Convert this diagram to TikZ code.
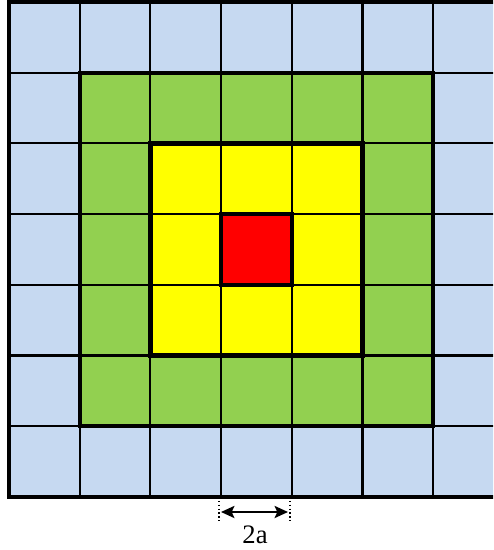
\documentclass[tikz,border=0pt]{standalone}
\usepackage{fontspec}
\setmainfont{Liberation Serif}
\usetikzlibrary{arrows.meta}
\definecolor{cblue}{RGB}{198,217,241}
\definecolor{cgreen}{RGB}{146,208,80}
\definecolor{cyellow}{RGB}{255,255,0}
\definecolor{cred}{RGB}{255,0,0}
\tikzset{
  thin grid/.style={line width=1.6pt},
  thick border/.style={line width=3.2pt},
  dimline/.style={line width=0.9pt, dotted},
}
\begin{document}
\begin{tikzpicture}[x=0.75pt,y=-0.75pt]
\useasboundingbox (0,0) rectangle (493,550);
\begin{scope}
\clip (0,0) rectangle (493,550);
% cell size 70.7, origin (9,2)
\def\cs{70.7}
\fill[cblue] (9,2) rectangle ++(7*\cs,7*\cs);
\fill[cgreen] (9+\cs,2+\cs) rectangle ++(5*\cs,5*\cs);
\fill[cyellow] (9+2*\cs,2+2*\cs) rectangle ++(3*\cs,3*\cs);
\fill[cred] (9+3*\cs,2+3*\cs) rectangle ++(\cs,\cs);
\foreach \i in {1,...,6}{
  \draw[thin grid] (9+\i*\cs,2) -- (9+\i*\cs,2+7*\cs);
  \draw[thin grid] (9,2+\i*\cs) -- (9+7*\cs,2+\i*\cs);
}
\draw[thick border] (9+\cs,2+\cs) rectangle ++(5*\cs,5*\cs);
\draw[thick border] (9+2*\cs,2+2*\cs) rectangle ++(3*\cs,3*\cs);
\draw[thick border] (9+3*\cs,2+3*\cs) rectangle ++(\cs,\cs);
\draw[thick border] (9,2) rectangle ++(7*\cs,7*\cs);
\end{scope}
% dimension
\coordinate (dl) at (219,497);
\coordinate (dr) at (290,497);
\draw[dimline] (dl) -- ++(0,26) coordinate (dlb);
\draw[dimline] (dr) -- ++(0,26) coordinate (drb);
\coordinate (al) at (221,512);
\coordinate (ar) at (288,512);
\draw[line width=1.9pt, {Stealth[length=10pt,width=9pt,inset=2pt]}-{Stealth[length=10pt,width=9pt,inset=2pt]}] (al) -- (ar);
\node[font=\fontsize{20}{24}\selectfont, inner sep=0pt] (lab) at (255,535) {2a};
\end{tikzpicture}
\end{document}
